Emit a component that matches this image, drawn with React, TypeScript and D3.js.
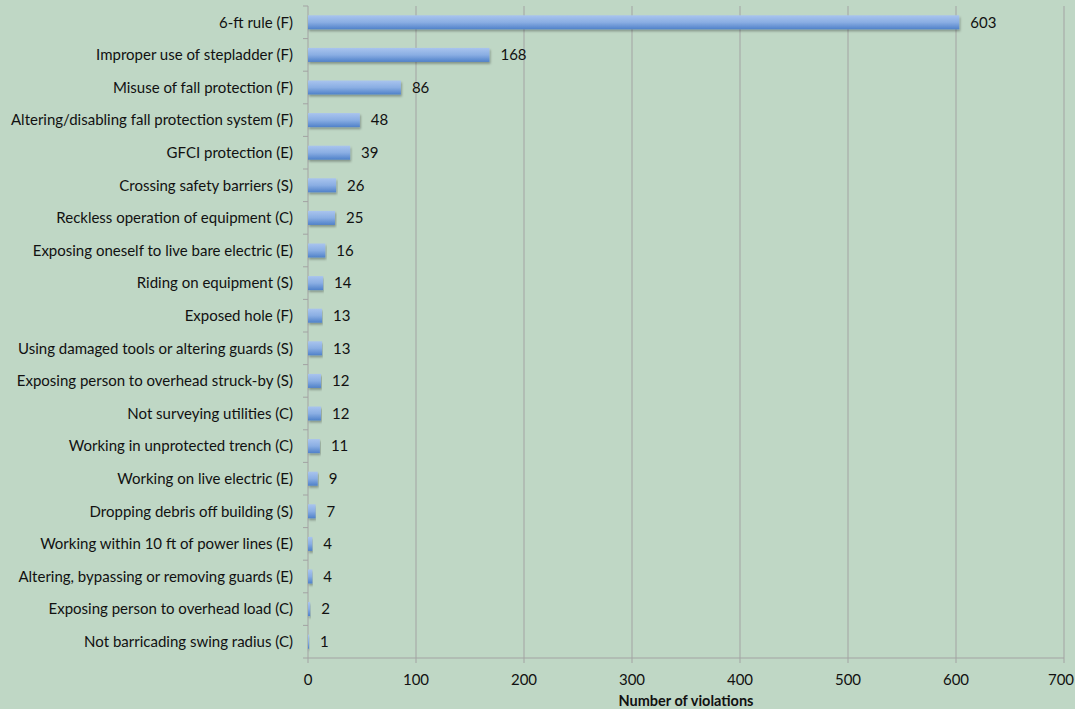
import React from 'react';
import * as d3 from 'd3';

const categories = [
  '6-ft rule (F)',
  'Improper use of stepladder (F)',
  'Misuse of fall protection (F)',
  'Altering/disabling fall protection system (F)',
  'GFCI protection (E)',
  'Crossing safety barriers (S)',
  'Reckless operation of equipment (C)',
  'Exposing oneself to live bare electric (E)',
  'Riding on equipment (S)',
  'Exposed hole (F)',
  'Using damaged tools or altering guards (S)',
  'Exposing person to overhead struck-by (S)',
  'Not surveying utilities (C)',
  'Working in unprotected trench (C)',
  'Working on live electric (E)',
  'Dropping debris off building (S)',
  'Working within 10 ft of power lines (E)',
  'Altering, bypassing or removing guards (E)',
  'Exposing person to overhead load (C)',
  'Not barricading swing radius (C)',
];
const violations = [603, 168, 86, 48, 39, 26, 25, 16, 14, 13, 13, 12, 12, 11, 9, 7, 4, 4, 2, 1];
const xTicks = [0, 100, 200, 300, 400, 500, 600, 700];

const W = 1075;
const H = 709;
const margin = { top: 6, right: 11, bottom: 51, left: 308 };
const font = 'Lato, "Liberation Sans", sans-serif';

const App: React.FC = () => {
  const x = d3.scaleLinear().domain([0, 700]).range([margin.left, W - margin.right]);
  const y = d3.scaleBand<string>()
    .domain(categories)
    .range([margin.top, H - margin.bottom])
    .paddingInner(0.57)
    .paddingOuter(0.285);
  const step = y.step();
  const bottom = H - margin.bottom;

  return (
    <svg width={W} height={H} style={{ position: 'absolute', left: 0, top: 0, background: '#bfd7c5' }}>
      <defs>
        <linearGradient id="barGrad" x1="0" y1="0" x2="0" y2="1">
          <stop offset="0" stopColor="#a9c4ee" />
          <stop offset="0.5" stopColor="#8aaee3" />
          <stop offset="1" stopColor="#4f81c9" />
        </linearGradient>
        <filter id="shadow" x="-5%" y="-30%" width="110%" height="180%">
          <feDropShadow dx="1" dy="2" stdDeviation="1.2" floodColor="#000" floodOpacity="0.3" />
        </filter>
      </defs>
      <rect x={0} y={0} width={W} height={H} fill="#bfd7c5" />
      {xTicks.slice(1).map(t => (
        <line key={t} x1={x(t)} x2={x(t)} y1={margin.top} y2={bottom} stroke="#a3a3a3" strokeWidth={1} />
      ))}
      {/* y axis */}
      <line x1={x(0)} x2={x(0)} y1={margin.top} y2={bottom} stroke="#a3a3a3" />
      {categories.map((_, i) => (
        <line key={i} x1={x(0) - 5} x2={x(0)} y1={margin.top + i * step} y2={margin.top + i * step} stroke="#a3a3a3" />
      ))}
      {/* x axis */}
      <line x1={x(0) - 5} x2={x(700)} y1={bottom} y2={bottom} stroke="#a3a3a3" />
      {xTicks.map(t => (
        <line key={t} x1={x(t)} x2={x(t)} y1={bottom} y2={bottom + 5} stroke="#a3a3a3" />
      ))}
      {categories.map((c, i) => {
        const by = y(c)!;
        const bw = x(violations[i]) - x(0);
        return (
          <g key={c}>
            <rect x={x(0)} y={by} width={bw} height={y.bandwidth()} fill="url(#barGrad)" filter="url(#shadow)" />
            <text x={x(0) - 15} y={by + y.bandwidth() / 2} dy="0.35em" textAnchor="end"
              fontFamily={font} fontSize={15} fill="#111">{c}</text>
            <text x={x(violations[i]) + 11} y={by + y.bandwidth() / 2} dy="0.35em"
              fontFamily={font} fontSize={15} fill="#111">{violations[i]}</text>
          </g>
        );
      })}
      {xTicks.map(t => (
        <text key={t} x={Math.min(x(t), W - 14)} y={bottom + 22} dy="0.35em" textAnchor="middle"
          fontFamily={font} fontSize={15} fill="#111">{t}</text>
      ))}
      <text x={(x(0) + x(700)) / 2} y={H - 3} textAnchor="middle" fontFamily={font}
        fontSize={14.5} fontWeight="bold" fill="#111">Number of violations</text>
    </svg>
  );
};

export default App;
